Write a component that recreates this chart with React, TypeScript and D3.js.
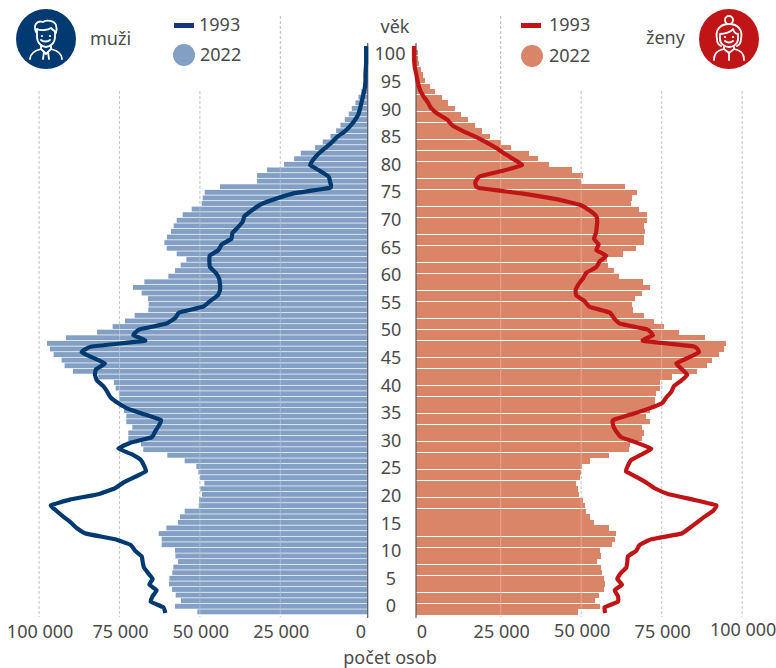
import React from "react";
import * as d3 from "d3";

// age 0 .. 100
const ages = d3.range(0, 101);
const ageTicks = d3.range(0, 101, 5);
const valueTicks = [0, 25000, 50000, 75000, 100000];

const male2022 = [52970,59920,58050,59710,60850,61780,61680,60750,60440,58980,59810,59920,64070,64070,65000,62610,58980,58360,56910,52550,52450,51520,52040,50790,52140,52660,53280,56910,62300,69770,70500,74440,74440,73190,75060,75060,75780,77340,77340,77340,78380,78900,83770,91650,94240,95180,97660,98800,99740,93830,84180,79310,75470,72460,68210,68110,68320,70280,72980,69460,61990,59920,58150,56390,59400,62510,63240,62410,61160,60330,59400,57530,54730,51620,51310,50680,45920,34400,34400,31290,26010,22890,20820,16360,13980,11590,9830,8480,7130,5890,4960,3810,2880,2000,1400,1000,600,400,200,150,100];
const female2022 = [50300,57130,55580,56820,58370,58680,58370,57750,57440,56200,57440,57130,60850,61790,62100,59920,55270,54020,52780,52470,51850,50610,50300,49680,50920,51230,51540,54020,59920,66130,66440,70170,70790,70170,72650,71410,72650,74210,74210,74520,75760,75760,79480,87250,90350,91900,94080,95630,96250,89730,81660,77000,73900,70790,67370,67060,68000,70170,72650,70480,63030,61480,59610,59300,64270,68300,70790,70790,71100,70790,71720,71720,69240,66750,67060,68620,64890,51230,51850,48440,41290,37880,35080,29490,26390,22970,20490,18320,16140,13970,12110,9930,8070,5900,4340,2790,2170,1550,930,620,620];
const male1993 = [62920,63540,67480,66860,65620,67900,66860,68210,69560,69970,70290,72360,73700,78580,87600,90500,92370,94650,96730,98490,92580,83450,78580,75990,72360,68940,69560,70600,73400,77540,73910,67170,66130,65000,64270,69250,74430,77540,79930,80960,82210,84180,84800,84490,81690,85320,88950,85840,69250,72880,71010,62820,59910,58570,51310,49030,46640,45920,45920,46230,47260,49030,49230,49130,46430,45400,42390,42080,40420,38860,38340,36060,33470,28800,23100,11690,11690,12210,14950,17920,16880,15320,13250,11170,9410,7020,5260,3910,2880,2360,1940,1530,1115,800,700,700,590,490,490,490,490];
const female1993 = [59410,59200,63340,63340,62310,64580,63130,64170,65930,66240,66450,69030,70070,73690,83010,85590,87970,90250,92840,93870,86630,78870,74730,72140,69030,65820,66450,67480,70790,73690,69340,64380,62820,61890,61790,67270,72660,77000,78350,79900,80730,83010,84870,83210,81450,85080,88490,86940,71100,74210,72450,64060,62100,60750,54540,53000,50400,50200,51130,52470,53510,56610,57650,59720,56610,57340,55890,56510,56720,56920,56610,54540,51440,44190,33330,19870,19040,20390,27630,33530,31050,28150,25560,22460,19040,15210,11900,10350,7450,5380,4350,3100,2070,1450,1030,720,310,100,0,0,0];

const maleBar = "#83A0C4";
const femaleBar = "#DA8468";
const maleLine = "#003A70";
const femaleLine = "#C01516";
const ink = "#4A4A4A";
const FONT = "'Noto Sans', sans-serif";

const axisM = 367.7;
const axisF = 416;
const xM = d3.scaleLinear().domain([0, 100000]).range([axisM, axisM - 321.6]);
const xF = d3.scaleLinear().domain([0, 100000]).range([axisF, axisF + 322]);
const xFL = d3.scaleLinear().domain([0, 100000]).range([414, 414 + 322]);
const yBar = d3.scaleLinear().domain([0, 101]).range([615, 50]);
const yLine = d3.scaleLinear().domain([0, 100]).range([613, 46]);
const yLab = d3.scaleLinear().domain([0, 100]).range([606, 54]);

const smooth = d3.curveCardinal.tension(0.65);
const lineM = d3.line<number>().x((d) => xM(d)).y((_, i) => yLine(i)).curve(smooth);
const lineF = d3.line<number>().x((d) => xFL(d)).y((_, i) => yLine(i)).curve(smooth);

const fmt = (v: number) => (v === 0 ? "0" : `${v / 1000} 000`);

function ManIcon() {
  return (
    <g transform="translate(46,39)">
      <circle r={30} fill={maleLine} />
      <g fill="none" stroke="#fff" strokeWidth={1.8} strokeLinecap="round" strokeLinejoin="round">
        <path d="M-10,-7 C-13,-14 -9,-19 -3,-17 C0,-19 8,-19 10,-14 C11,-11 11,-9 10,-6" />
        <path d="M-9,-10 C-5,-8 2,-9 5,-11 C7,-9 8,-8 9,-8 L9,-2 C9,4 4,8 0,8 C-4,8 -9,4 -9,-2 Z" />
        <path d="M-5,1 C-3,3 2,3 4,1" />
        <path d="M-5,7 L-5,10 L0,15 L5,10 L5,7" />
        <path d="M-5,10 C-13,12 -16,15 -16,20" />
        <path d="M5,10 C13,12 16,15 16,20" />
        <path d="M-2,13 L-3,20 M2,13 L3,20" />
      </g>
      <circle cx={-4} cy={-3} r={1.1} fill="#fff" />
      <circle cx={4} cy={-3} r={1.1} fill="#fff" />
    </g>
  );
}

function WomanIcon() {
  return (
    <g transform="translate(729,39)">
      <circle r={30} fill={femaleLine} />
      <g fill="none" stroke="#fff" strokeWidth={1.8} strokeLinecap="round" strokeLinejoin="round">
        <circle cx={0} cy={-19} r={4} />
        <path d="M-12,0 C-14,-9 -9,-15 0,-15 C9,-15 14,-9 12,0 C12,3 10,6 8,7" />
        <path d="M-8,7 C-10,6 -12,3 -12,0" />
        <path d="M-9,-5 C-4,-5 2,-7 4,-10 C5,-7 7,-5 9,-5 L9,0 C9,5 4,8 0,8 C-4,8 -9,5 -9,0 Z" />
        <path d="M-4,2 C-2,4 2,4 4,2" />
        <path d="M-5,8 L-5,10 L0,14 L5,10 L5,8" />
        <path d="M-5,10 C-13,12 -15,15 -15,21" />
        <path d="M5,10 C13,12 15,15 15,21" />
        <path d="M0,14 L0,21" />
      </g>
      <circle cx={-4} cy={-2} r={1.1} fill="#fff" />
      <circle cx={4} cy={-2} r={1.1} fill="#fff" />
    </g>
  );
}

export default function App() {
  const txt = { fontFamily: FONT, fontSize: 18, fill: ink } as const;
  const gridM = [25000, 50000, 75000, 100000];
  const gM = (v: number) => xM(v) - 7;
  const gF = (v: number) => xF(v) + 4.2;
  const gridLine = (x: number, key: string, top: number, over: boolean) => (
    <line
      key={key}
      x1={x}
      x2={x}
      y1={top}
      y2={617}
      stroke={over ? "#ffffff" : "#B8B8B8"}
      strokeOpacity={over ? 0.28 : 1}
      strokeWidth={1}
      strokeDasharray={over ? "none" : "3 2"}
    />
  );
  return (
    <svg
      width={776}
      height={668}
      viewBox="0 0 776 668"
      style={{ position: "absolute", left: 0, top: 0, background: "#fff" }}
    >
      {gridM.map((v) => gridLine(gM(v), `gm${v}`, v === 25000 ? 16 : 91, false))}
      {gridM.map((v) => gridLine(gF(v), `gf${v}`, v === 25000 ? 16 : 91, false))}

      <g fill={maleBar}>
        {ages.map((a) => (
          <rect
            key={a}
            x={xM(male2022[a])}
            width={axisM - xM(male2022[a])}
            y={yBar(a + 1)}
            height={4.9}
          />
        ))}
      </g>
      <g fill={femaleBar} shapeRendering="crispEdges">
        {ages.map((a) => (
          <rect
            key={a}
            x={axisF}
            width={xF(female2022[a]) - axisF}
            y={yBar(a + 1)}
            height={5.2}
          />
        ))}
      </g>
      {gridM.map((v) => gridLine(gM(v), `om${v}`, 91, true))}
      {gridM.map((v) => gridLine(gF(v), `of${v}`, 91, true))}

      <line x1={axisM} x2={axisM} y1={43} y2={618} stroke="#5A5A5A" strokeWidth={1.2} />
      <line x1={axisF} x2={axisF} y1={43} y2={618} stroke="#5A5A5A" strokeWidth={1.2} />

      <path d={lineM(male1993) ?? ""} fill="none" stroke={maleLine} strokeWidth={4.2} strokeLinejoin="round" />
      <path d={lineF(female1993) ?? ""} fill="none" stroke={femaleLine} strokeWidth={4.2} strokeLinejoin="round" />

      <g {...txt} textAnchor="middle">
        <text x={395} y={33}>věk</text>
        {ageTicks.map((a) => (
          <text key={a} x={a === 100 ? 390 : 391} y={yLab(a) + 6.4}>{a}</text>
        ))}
        {valueTicks.map((v) => (
          <text key={`l${v}`} x={v === 0 ? 361 : gM(v) + 1} y={638}>{fmt(v)}</text>
        ))}
        {valueTicks.map((v) => (
          <text
            key={`r${v}`}
            x={v === 0 ? 422 : gF(v) + 1}
            y={v === 100000 ? 636 : v === 50000 ? 636.5 : 638}
          >
            {fmt(v)}
          </text>
        ))}
        <text x={390} y={663.5}>počet osob</text>
      </g>

      <ManIcon />
      <WomanIcon />
      <text {...txt} x={90} y={45}>muži</text>
      <text {...txt} x={646} y={44}>ženy</text>

      <rect x={174} y={23} width={20} height={5} fill="#14357C" />
      <text {...txt} x={199} y={31}>1993</text>
      <circle cx={184} cy={55} r={11} fill={maleBar} />
      <text {...txt} x={200} y={61}>2022</text>

      <rect x={521} y={23} width={20} height={5} fill={femaleLine} />
      <text {...txt} x={549} y={31}>1993</text>
      <circle cx={532} cy={56} r={11} fill={femaleBar} />
      <text {...txt} x={549} y={62}>2022</text>
    </svg>
  );
}
